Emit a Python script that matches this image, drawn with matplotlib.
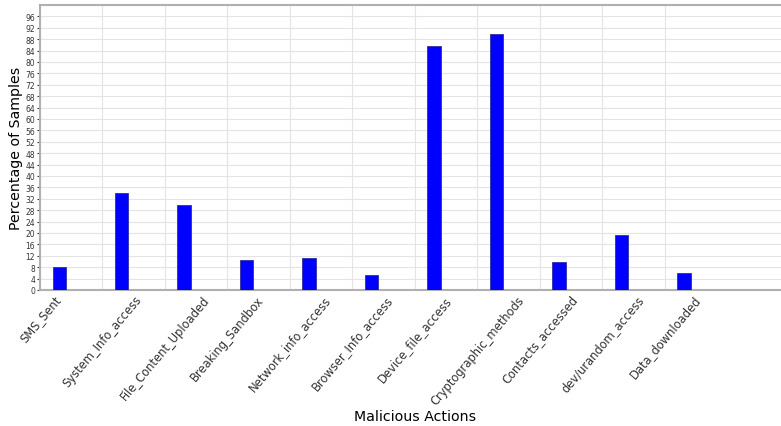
import matplotlib
matplotlib.use("Agg")
import matplotlib.pyplot as plt
import numpy as np

# data
handlinger = ["SMS_Sent", "System_Info_access", "File_Content_Uploaded", "Breaking_Sandbox",
              "Network_info_access", "Browser_Info_access", "Device_file_access",
              "Cryptographic_methods", "Contacts_accessed", "dev/urandom_access", "Data_downloaded"]
prosent = [8.2, 34.0, 29.8, 10.6, 11.1, 5.4, 85.6, 89.9, 9.7, 19.4, 6.0]

ind = np.arange(len(handlinger))
bredde = 0.21

fig = plt.figure(figsize=(7.81, 4.27), dpi=100)
ax = fig.add_axes([40 / 781, 136 / 427, 750 / 781, 285 / 427])

ax.bar(ind + 0.2, prosent, bredde, align='edge', color='blue', edgecolor='#3030a0', linewidth=0.6, zorder=3)

ax.set_xlim(0, 12)
ax.set_ylim(0, 100)
ax.set_yticks(np.arange(0, 97, 4))
ax.tick_params(axis='y', labelsize=5.5, length=2, pad=1.5, colors='#333333')

# tick labels sit on the grid lines, centred
ax.set_xticks(ind)
ax.set_xticklabels(handlinger, rotation=50, ha='center', fontsize=8.3, color='#333333')
ax.tick_params(axis='x', length=0, pad=2)

ax.grid(True, color='#e4e4e4', linewidth=0.8, zorder=0)
for s in ax.spines.values():
    s.set_color('#b0b0b0')
    s.set_linewidth(1.5)

ax.set_ylabel('Percentage of Samples', fontsize=10.2, labelpad=2)
ax.set_xlabel('Malicious Actions', fontsize=10.2, labelpad=2)

fig.savefig('out.png', dpi=100)
